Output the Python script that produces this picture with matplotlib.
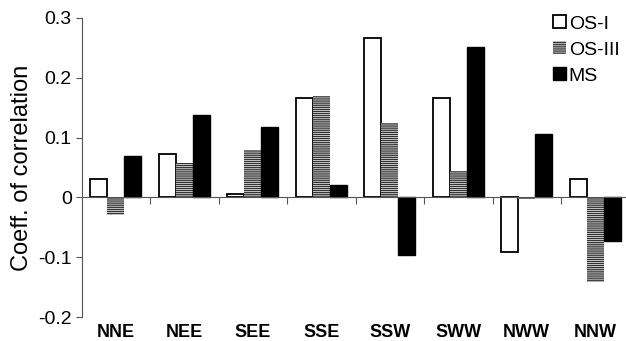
import matplotlib
matplotlib.use("Agg")
import matplotlib.pyplot as plt
import numpy as np

plt.rcParams['font.family'] = ['Liberation Sans', 'DejaVu Sans']
plt.rcParams['hatch.linewidth'] = 1.0

categories = ["NNE", "NEE", "SEE", "SSE", "SSW", "SWW", "NWW", "NNW"]
os1 = [0.03, 0.073, 0.005, 0.167, 0.267, 0.167, -0.092, 0.03]
os3 = [-0.03, 0.057, 0.08, 0.17, 0.125, 0.044, -0.002, -0.141]
ms = [0.07, 0.137, 0.117, 0.02, -0.096, 0.252, 0.106, -0.073]
yticks = [-0.2, -0.1, 0, 0.1, 0.2, 0.3]
ytick_labels = ["-0.2", "-0.1", "0", "0.1", "0.2", "0.3"]

fig = plt.figure(figsize=(6.26, 3.41), dpi=100)
ax = fig.add_axes([81.5/626, 1-317/341, 548/626, 299/341])

x = np.arange(len(categories))
w = 0.25
ax.bar(x - w, os1, w, facecolor='white', edgecolor='black', linewidth=1.3, label='OS-I', zorder=3)
ax.bar(x, os3, w, facecolor='white', edgecolor='#333333', linewidth=0, hatch='--------', label='OS-III', zorder=3)
ax.bar(x + w, ms, w, facecolor='black', edgecolor='black', linewidth=1.0, label='MS', zorder=3)

ax.set_xlim(-0.5, len(categories) - 0.5)
ax.set_ylim(-0.2, 0.3)
ax.set_yticks(yticks)
ax.set_yticklabels(ytick_labels, fontsize=14)
ax.tick_params(axis='y', direction='out', length=4, width=0.8, color='#555555', pad=3)

ax.spines['top'].set_visible(False)
ax.spines['right'].set_visible(False)
ax.spines['left'].set_color('#555555')
ax.spines['left'].set_linewidth(0.8)
ax.spines['bottom'].set_position(('data', 0))
ax.spines['bottom'].set_color('#555555')
ax.spines['bottom'].set_linewidth(0.8)
ax.spines['bottom'].set_zorder(4)

ax.set_xticks(np.arange(len(categories) - 1) + 0.5)
ax.set_xticklabels([])
ax.tick_params(axis='x', direction='out', length=5, width=0.8, color='#555555')

sec = ax.secondary_xaxis('bottom')
sec.set_xticks(x)
sec.set_xticklabels(categories, fontsize=13, fontweight='bold')
sec.tick_params(length=0, pad=5)
sec.spines['bottom'].set_visible(False)

ax.set_ylabel("Coeff. of correlation", fontsize=17, labelpad=4)

leg = ax.legend(loc='upper right', bbox_to_anchor=(0.996, 1.035), frameon=False, fontsize=14,
                handlelength=0.65, handleheight=0.65, handletextpad=0.15, labelspacing=0.45,
                borderaxespad=0)

fig.savefig("out.png", dpi=100)
